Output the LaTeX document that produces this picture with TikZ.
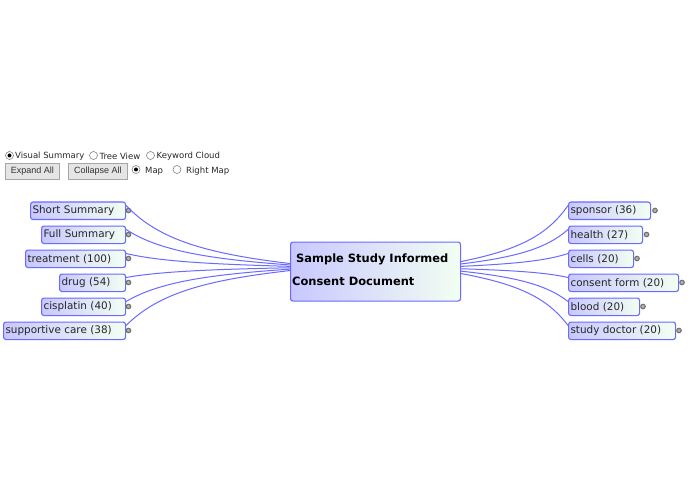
\documentclass[tikz,border=0pt]{standalone}
\usepackage{fontspec}
\setmainfont{DejaVu Sans}
\newfontfamily\btnfont{Liberation Sans}
\usetikzlibrary{calc}
\definecolor{edgeblue}{HTML}{6A6AFF}
\definecolor{gradl}{HTML}{C8C8FF}
\definecolor{gradr}{HTML}{F2FFF2}
\definecolor{dotgray}{HTML}{707070}
\tikzset{
  topicbox/.style={draw=edgeblue,line width=1.1pt,rounded corners=2.5pt,left color=gradl,right color=gradr,
    minimum height=17.5pt,inner xsep=2pt,inner ysep=0pt,anchor=north west,align=left,
    font=\fontsize{10.4}{13}\selectfont,text=black!85},
  link/.style={draw=edgeblue,line width=1pt},
  knob/.style={circle,draw=dotgray,fill=black!30,line width=1.1pt,minimum size=4.5pt,inner sep=0pt},
  radio/.style={circle,draw=black!55,fill=white,line width=0.5pt,minimum size=8pt,inner sep=0pt},
  radiodot/.style={circle,fill=black,minimum size=4pt,inner sep=0pt},
  lbl/.style={anchor=west,inner sep=0pt,font=\fontsize{8.5}{11}\selectfont,text=black!85},
  btn/.style={draw=black!35,fill=black!10,line width=0.6pt,anchor=north west,inner sep=0pt,
    font=\btnfont\fontsize{9}{11}\selectfont,text=black!80}
}
\newcommand{\topic}[5]{\node[topicbox,text width=#4pt-4pt,minimum width=#4pt] (#1) at (#2,#3) {#5};}
\begin{document}
\begin{tikzpicture}[x=1pt,y=-1pt]
\useasboundingbox[fill=white] (0,0) rectangle (695,494);
% controls
\node[radio] (r1) at (9.5,155.5) {}; \node[radiodot] (r1d) at (9.5,155.5) {};
\node[lbl] (t1) at (15,156.5) {Visual Summary};
\node[radio] (r2) at (93.5,155.5) {};
\node[lbl] (t2) at (99.5,156.5) {Tree View};
\node[radio] (r3) at (150.5,155.5) {};
\node[lbl] (t3) at (156.5,156.5) {Keyword Cloud};
\node[btn,minimum width=54pt,minimum height=16pt] (b1) at (5,163) {Expand All};
\node[btn,minimum width=59pt,minimum height=16pt] (b2) at (68,163) {Collapse All};
\node[radio] (r4) at (136,169.5) {}; \node[radiodot] (r4d) at (136,169.5) {};
\node[lbl] (t4) at (145,171) {Map};
\node[radio] (r5) at (177,169.5) {};
\node[lbl] (t5) at (186,171) {Right Map};
% centre
\node[draw=edgeblue,line width=1.1pt,rounded corners=2.5pt,left color=gradl,right color=gradr,
  minimum width=170pt,minimum height=59pt,inner sep=0pt,anchor=north west] (ctr) at (290,241.5) {};
\node[anchor=west,inner sep=0pt,font=\bfseries\fontsize{11.45}{13}\selectfont] (ct1) at (296,259) {Sample Study Informed};
\node[anchor=west,inner sep=0pt,font=\bfseries\fontsize{11.45}{13}\selectfont] (ct2) at (292,281) {Consent Document};
% left topics
\topic{s1}{30}{201.5}{95}{Short Summary}
\topic{s2}{41}{225.5}{84}{Full Summary}
\topic{s3}{25}{249.5}{100}{treatment (100)}
\topic{s4}{59}{273.5}{66}{drug (54)}
\topic{s5}{41}{297.5}{84}{cisplatin (40)}
\topic{s6}{3}{321.5}{122}{supportive care (38)}
% right topics
\topic{e1}{568}{201.5}{82}{sponsor (36)}
\topic{e2}{568}{225.5}{74}{health (27)}
\topic{e3}{568}{249.5}{65}{cells (20)}
\topic{e4}{568}{273.5}{110}{consent form (20)}
\topic{e5}{568}{297.5}{71}{blood (20)}
\topic{e6}{568}{321.5}{107}{study doctor (20)}
% knobs
\foreach \n/\xx/\yy in {k1/128.5/210.5,k2/128.5/234.5,k3/128.5/258.5,k4/128.5/282.5,k5/128.5/306.5,k6/128.5/330.5,
  q1/655/210.5,q2/646.5/234.5,q3/637/258.5,q4/682/282.5,q5/643/306.5,q6/679/330.5}
  \node[knob] (\n) at (\xx,\yy) {};
% connectors
\coordinate (cl1) at ($(ctr.west)+(0,-8)$);
\coordinate (cl2) at ($(ctr.west)+(0,-6.6)$);
\coordinate (cl3) at ($(ctr.west)+(0,-5.2)$);
\coordinate (cl4) at ($(ctr.west)+(0,-3.8)$);
\coordinate (cl5) at ($(ctr.west)+(0,-2.4)$);
\coordinate (cl6) at ($(ctr.west)+(0,-1)$);
\coordinate (cr1) at ($(ctr.east)+(0,-10)$);
\coordinate (cr2) at ($(ctr.east)+(0,-7.6)$);
\coordinate (cr3) at ($(ctr.east)+(0,-5.2)$);
\coordinate (cr4) at ($(ctr.east)+(0,-2.8)$);
\coordinate (cr5) at ($(ctr.east)+(0,-0.4)$);
\coordinate (cr6) at ($(ctr.east)+(0,2)$);
\foreach \a/\c in {s1/cl1,s2/cl2,s3/cl3,s4/cl4,s5/cl5,s6/cl6}{
  \coordinate (p) at ($(\a.north east)+(0,4)$);
  \draw[link] let \p1=(p),\p2=(\c) in
    (p) .. controls ({\x1+0.2*(\x2-\x1)},{\y1+0.6*(\y2-\y1)}) and ({\x1+0.5*(\x2-\x1)},{\y1+0.83*(\y2-\y1)}) .. (\c);
}
\foreach \a/\c in {e1/cr1,e2/cr2,e3/cr3,e4/cr4,e5/cr5,e6/cr6}{
  \coordinate (p) at ($(\a.north west)+(0,4)$);
  \draw[link] let \p1=(p),\p2=(\c) in
    (p) .. controls ({\x1+0.2*(\x2-\x1)},{\y1+0.55*(\y2-\y1)}) and ({\x1+0.48*(\x2-\x1)},{\y1+0.8*(\y2-\y1)}) .. (\c);
}
\end{tikzpicture}
\end{document}
